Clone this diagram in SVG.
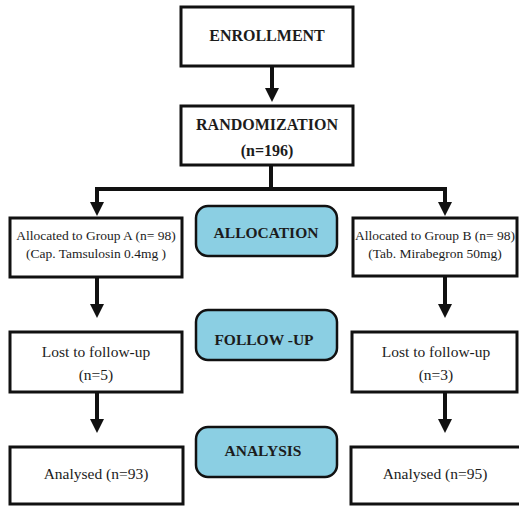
<svg xmlns="http://www.w3.org/2000/svg" width="519" height="506" viewBox="0 0 519 506">
<style>
.box{fill:#fff;stroke:#111;stroke-width:3}
.phase{fill:#8bcfe3;stroke:#111;stroke-width:2.5}
.t{font-family:"Liberation Serif","Times New Roman",serif;fill:#1c1c1c;text-anchor:middle}
.b{font-weight:bold;font-size:16px}
.pb{font-weight:bold;font-size:15.5px}
.s{font-size:13.5px}
.m{font-size:15.5px}
.c{fill:none;stroke:#111;stroke-width:4}
</style>
<defs>
<marker id="ah" viewBox="0 0 14 14" markerUnits="userSpaceOnUse" markerWidth="14" markerHeight="14" refX="4" refY="7" orient="auto">
<path d="M0,0 L14,7 L0,14 z" fill="#111"/>
</marker>
</defs>
<rect width="519" height="506" fill="#fff"/>
<g id="connectors">
<path class="c" d="M272,66 V92" marker-end="url(#ah)"/>
<path class="c" d="M271,165 V189"/>
<path class="c" d="M95,189 H447"/>
<path class="c" d="M97,187 V206" marker-end="url(#ah)"/>
<path class="c" d="M445,187 V206" marker-end="url(#ah)"/>
<path class="c" d="M97,277 V308" marker-end="url(#ah)"/>
<path class="c" d="M445,276 V308" marker-end="url(#ah)"/>
<path class="c" d="M97,392 V423" marker-end="url(#ah)"/>
<path class="c" d="M445,392 V423" marker-end="url(#ah)"/>
</g>
<g id="enrollment">
<rect class="box" x="181" y="7" width="172" height="59"/>
<text class="t b" x="267" y="41">ENROLLMENT</text>
</g>
<g id="randomization">
<rect class="box" x="181" y="106" width="172" height="59"/>
<text class="t b" x="267" y="130">RANDOMIZATION</text>
<text class="t b" x="267" y="156">(n=196)</text>
</g>
<g id="allocation">
<rect class="phase" x="196" y="206" width="141" height="50" rx="12"/>
<text class="t pb" x="266" y="238">ALLOCATION</text>
</g>
<g id="group-a">
<rect class="box" x="10" y="218" width="172" height="59"/>
<text class="t s" x="96" y="240">Allocated to Group A (n= 98)</text>
<text class="t s" x="96" y="258">(Cap. Tamsulosin 0.4mg )</text>
</g>
<g id="group-b">
<rect class="box" x="353" y="218" width="164" height="58"/>
<text class="t s" x="435" y="240">Allocated to Group B (n= 98)</text>
<text class="t s" x="435" y="258">(Tab. Mirabegron 50mg)</text>
</g>
<g id="follow-up">
<rect class="phase" x="196" y="310" width="141" height="50" rx="12"/>
<text class="t pb" x="264" y="345">FOLLOW -UP</text>
</g>
<g id="lost-a">
<rect class="box" x="10" y="332" width="172" height="60"/>
<text class="t m" x="96" y="357">Lost to follow-up</text>
<text class="t m" x="96" y="380">(n=5)</text>
</g>
<g id="lost-b">
<rect class="box" x="352" y="332" width="165" height="60"/>
<text class="t m" x="436" y="357">Lost to follow-up</text>
<text class="t m" x="436" y="380">(n=3)</text>
</g>
<g id="analysis">
<rect class="phase" x="196" y="427" width="141" height="50" rx="12"/>
<text class="t pb" x="263" y="456">ANALYSIS</text>
</g>
<g id="analysed-a">
<rect class="box" x="10" y="447" width="173" height="57"/>
<text class="t m" x="96" y="479">Analysed (n=93)</text>
</g>
<g id="analysed-b">
<rect class="box" x="351" y="447" width="172" height="57"/>
<text class="t m" x="435" y="479">Analysed (n=95)</text>
</g>
</svg>
